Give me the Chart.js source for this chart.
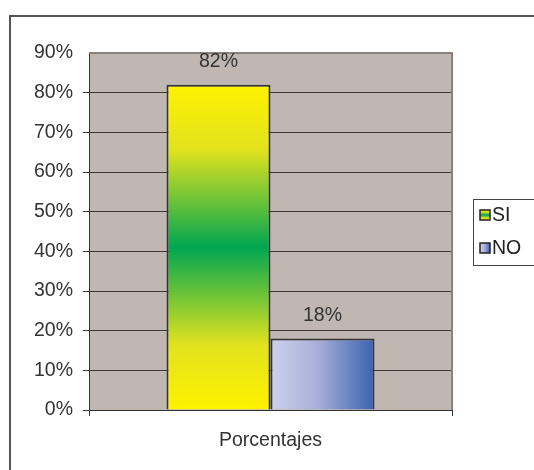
<!DOCTYPE html>
<html>
<head>
<meta charset="utf-8">
<script src="https://cdn.jsdelivr.net/npm/chart.js@4.4.0/dist/chart.umd.min.js"></script>
<style>
  html, body { margin: 0; padding: 0; background: #fff; }
  #wrap { width: 534px; height: 470px; }
</style>
</head>
<body>
<div id="wrap"><canvas id="mycanvas" width="534" height="470"></canvas></div>
<script>
var categories = ['Porcentajes'];
var seriesNames = ['SI', 'NO'];
var siValues = [82];
var noValues = [18];
var yTicks = [0, 10, 20, 30, 40, 50, 60, 70, 80, 90];

var FONT = '"Liberation Sans", Arial, sans-serif';
var FSIZE = 19.5;

function siGradient(ctx, top, bottom){
	var g = ctx.createLinearGradient(0, top, 0, bottom);
	g.addColorStop(0, '#fff200');
	g.addColorStop(0.2, '#e2e21e');
	g.addColorStop(0.5, '#00a651');
	g.addColorStop(0.8, '#e2e21e');
	g.addColorStop(1, '#fff200');
	return g;
}
function noGradient(ctx, left, right){
	var g = ctx.createLinearGradient(left, 0, right, 0);
	g.addColorStop(0, '#cdd1ec');
	g.addColorStop(0.45, '#a9b0d8');
	g.addColorStop(1, '#3b62b0');
	return g;
}

// bar span helpers, from the scales
function barSpan(chart, dsIndex){
	var xs = chart.scales.x;
	var center = xs.getPixelForValue(0);
	var catW = xs.width / categories.length;
	var w = catW * 0.573 / 2;
	var left = center - w + dsIndex * w;
	return [left, left + w];
}

var framePlugin = {
	id: 'frame',
	beforeDraw: function(chart){
		var c = chart.ctx, a = chart.chartArea;
		c.save();
		c.fillStyle = '#c0b7b3';
		c.fillRect(a.left, a.top, a.right - a.left, a.bottom - a.top);
		c.restore();
	},
	afterDraw: function(chart){
		var c = chart.ctx, a = chart.chartArea;
		c.save();
		// plot border top/right
		c.strokeStyle = '#8a807d';
		c.lineWidth = 2;
		c.beginPath();
		c.moveTo(a.left, a.top);
		c.lineTo(a.right, a.top);
		c.lineTo(a.right, a.bottom);
		c.stroke();
		// outer frame
		c.strokeStyle = '#555';
		c.lineWidth = 2;
		c.beginPath();
		c.moveTo(10, 470);
		c.lineTo(10, 16);
		c.lineTo(534, 16);
		c.stroke();

		// data labels
		c.fillStyle = '#333';
		c.font = FSIZE + 'px ' + FONT;
		c.textAlign = 'center';
		c.textBaseline = 'middle';
		chart.data.datasets.forEach(function(ds, i){
			chart.getDatasetMeta(i).data.forEach(function(bar, j){
				c.fillText(ds.data[j] + '%', bar.x, bar.y - 23);
			});
		});

		// legend
		var lx = 473, ly = 199, lw = 70, lh = 66;
		c.strokeStyle = '#444';
		c.lineWidth = 1;
		c.fillStyle = '#fff';
		c.fillRect(lx + 0.5, ly + 0.5, lw, lh);
		c.strokeRect(lx + 0.5, ly + 0.5, lw, lh);
		c.textAlign = 'left';
		var rows = [ly + 16, ly + 49];
		chart.data.datasets.forEach(function(ds, i){
			var sy = rows[i] - 5;
			c.fillStyle = i === 0 ? siGradient(c, sy, sy + 10) : noGradient(c, 480, 490);
			c.fillRect(480, sy, 10, 10);
			c.strokeStyle = '#222';
			c.lineWidth = 1.5;
			c.strokeRect(480, sy, 10, 10);
			c.fillStyle = '#222';
			c.fillText(ds.label, 492, rows[i] + 1);
		});
		c.restore();
	}
};

var ctx = document.getElementById('mycanvas');

var chartdata = {
	labels: categories,
	datasets: [
		{
			label: seriesNames[0],
			data: siValues,
			borderColor: '#333',
			borderWidth: 2,
			backgroundColor: function(context){
				var chart = context.chart;
				if (!chart.chartArea) return '#fff200';
				var y = chart.scales.y;
				return siGradient(chart.ctx, y.getPixelForValue(siValues[0]), y.getPixelForValue(0));
			}
		},
		{
			label: seriesNames[1],
			data: noValues,
			borderColor: '#333',
			borderWidth: 2,
			backgroundColor: function(context){
				var chart = context.chart;
				if (!chart.chartArea) return '#a9b0d8';
				var s = barSpan(chart, 1);
				return noGradient(chart.ctx, s[0], s[1]);
			}
		}
	]
};

var barGraph = new Chart(ctx, {
	type: 'bar',
	data: chartdata,
	options: {
		responsive: false,
		animation: false,
		devicePixelRatio: 1,
		layout: { padding: { left: 0, right: 82, top: 53, bottom: 0 } },
		datasets: { bar: { categoryPercentage: 0.573, barPercentage: 1 } },
		plugins: {
			legend: { display: false },
			tooltip: { enabled: false }
		},
		scales: {
			x: {
				afterFit: function(scale){ scale.height = 60; },
				grid: { display: true, drawOnChartArea: false, offset: true, tickLength: 6, color: '#333' },
				border: { color: '#333', width: 1 },
				ticks: { color: '#333', padding: 13, font: { family: FONT, size: FSIZE } }
			},
			y: {
				min: 0,
				max: 90,
				afterFit: function(scale){ scale.width = 89; },
				afterBuildTicks: function(scale){
					scale.ticks = yTicks.map(function(v){ return { value: v }; });
				},
				grid: {
					tickLength: 6,
					color: function(c){ return c.tick && c.tick.value === 90 ? 'rgba(0,0,0,0)' : '#3c3838'; }
				},
				border: { color: '#333', width: 1 },
				ticks: {
					color: '#333',
					padding: 10,
					font: { family: FONT, size: FSIZE },
					callback: function(v){ return v + '%'; }
				}
			}
		}
	},
	plugins: [framePlugin]
});
</script>
</body>
</html>
